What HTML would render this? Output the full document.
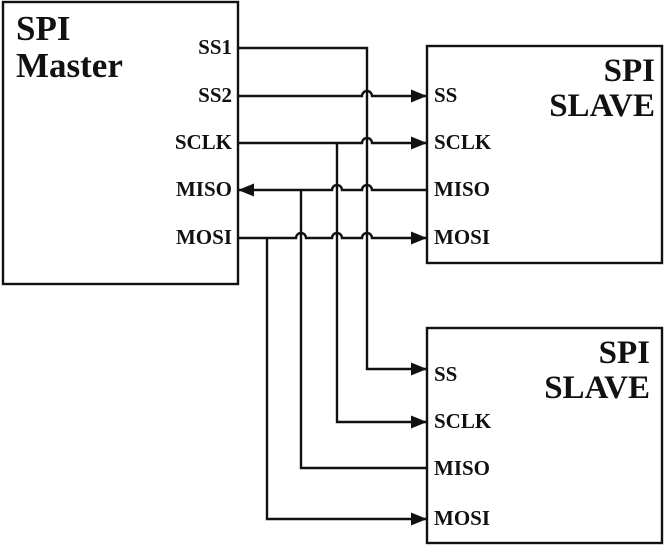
<!DOCTYPE html>
<html><head><style>
html,body{margin:0;padding:0;background:#fff;}
svg{display:block;}
text{font-family:"Liberation Serif",serif;font-weight:bold;fill:#111;}
text.big{font-size:35px;}
text.bs{font-size:33px;text-anchor:end;}
text.pin{font-size:21px;}
text.pinr{font-size:21px;text-anchor:end;}
</style></head><body>
<svg width="672" height="545" viewBox="0 0 672 545">
<defs>
<marker id="a" markerWidth="16" markerHeight="13" refX="16" refY="6.5" orient="auto" markerUnits="userSpaceOnUse">
<path d="M0,0 L16,6.5 L0,13 Z" fill="#111"/>
</marker>
</defs>
<g fill="none" stroke="#111" stroke-width="2.4">
<rect x="3" y="2" width="235" height="282"/>
<rect x="427" y="46" width="235" height="217"/>
<rect x="427" y="328" width="235" height="215"/>
<path d="M238,48 H367 V369 H427" marker-end="url(#a)"/>
<path d="M238,96 H362 a5,5 0 0 1 10,0 H427" marker-end="url(#a)"/>
<path d="M238,143 H362 a5,5 0 0 1 10,0 H427" marker-end="url(#a)"/>
<path d="M337,143 V422 H427" marker-end="url(#a)"/>
<path d="M427,190 H372 a5,5 0 0 0 -10,0 H342 a5,5 0 0 0 -10,0 H238" marker-end="url(#a)"/>
<path d="M301,190 V468 H427"/>
<path d="M238,238 H296 a5,5 0 0 1 10,0 H332 a5,5 0 0 1 10,0 H362 a5,5 0 0 1 10,0 H427" marker-end="url(#a)"/>
<path d="M267,238 V519 H427" marker-end="url(#a)"/>
</g>
<text class="big" x="16" y="40">SPI</text>
<text class="big" x="16" y="77">Master</text>
<text class="pinr" x="232" y="54">SS1</text>
<text class="pinr" x="232" y="102">SS2</text>
<text class="pinr" x="232" y="149">SCLK</text>
<text class="pinr" x="232" y="196">MISO</text>
<text class="pinr" x="232" y="244">MOSI</text>
<text class="bs" x="655" y="81">SPI</text>
<text class="bs" x="655" y="116">SLAVE</text>
<text class="pin" x="434" y="102">SS</text>
<text class="pin" x="434" y="149">SCLK</text>
<text class="pin" x="434" y="196">MISO</text>
<text class="pin" x="434" y="244">MOSI</text>
<text class="bs" x="650" y="363">SPI</text>
<text class="bs" x="650" y="398">SLAVE</text>
<text class="pin" x="434" y="381">SS</text>
<text class="pin" x="434" y="428">SCLK</text>
<text class="pin" x="434" y="475">MISO</text>
<text class="pin" x="434" y="525">MOSI</text>
</svg>
</body></html>
